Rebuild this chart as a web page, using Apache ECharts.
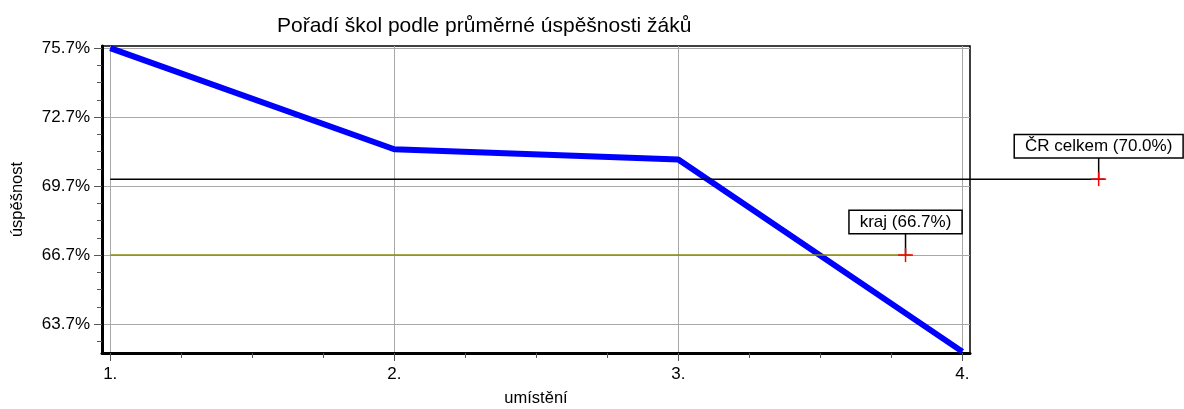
<!DOCTYPE html>
<html>
<head>
<meta charset="utf-8">
<script src="https://cdn.jsdelivr.net/npm/echarts@6/dist/echarts.min.js"></script>
<style>
  html, body { margin: 0; padding: 0; background: #fff; }
  #chart { width: 1184px; height: 409px; }
</style>
</head>
<body>
<div id="chart"></div>
<script>
// poradi skol
var ranks = [1, 2, 3, 4];
var scores = [75.7, 71.3, 70.85, 62.5];

// referencni hodnoty (CR, kraj) a misto, kde je znacka
var refNames = ['ČR celkem', 'kraj'];
var refValues = [70.0, 66.7];
var refMarkX = [4.48, 3.8];

// popisky os
var xTicks = [1, 2, 3, 4];
var xMinorTicks = [1.25, 1.5, 1.75, 2.25, 2.5, 2.75, 3.25, 3.5, 3.75];
var yTicks = [63.7, 66.7, 69.7, 72.7, 75.7];
var yMinorTicks = [62.95, 64.45, 65.2, 65.95, 67.45, 68.2, 68.95, 70.45, 71.2, 71.95, 73.45, 74.2, 74.95];

var refColors = ['#000000', '#8a8a10'];
var FONT = '"Liberation Sans", Arial, sans-serif';

var chart = echarts.init(document.getElementById('chart'));

function renderRef(params, api) {
  var i = api.value(2);
  var p = api.coord([api.value(0), api.value(1)]);
  var s = api.coord([ranks[0], api.value(1)]);
  var label = refNames[i] + ' (' + api.value(1).toFixed(1) + '%)';
  return {
    type: 'group',
    children: [
      { type: 'line', shape: { x1: s[0], y1: p[1], x2: p[0] + 6, y2: p[1] },
        style: { stroke: refColors[i], lineWidth: 1.5 } },
      { type: 'line', shape: { x1: p[0], y1: p[1] - 22, x2: p[0], y2: p[1] },
        style: { stroke: '#000', lineWidth: 1.5 } },
      { type: 'line', shape: { x1: p[0] - 7.5, y1: p[1], x2: p[0] + 7.5, y2: p[1] },
        style: { stroke: '#ff0000', lineWidth: 1.5 } },
      { type: 'line', shape: { x1: p[0], y1: p[1] - 7, x2: p[0], y2: p[1] + 7 },
        style: { stroke: '#ff0000', lineWidth: 1.5 } },
      { type: 'text', x: p[0], y: p[1] - 22,
        style: { text: label, align: 'center', verticalAlign: 'bottom',
          font: '17px ' + FONT, fill: '#000', backgroundColor: '#fff',
          borderColor: '#000', borderWidth: 1.5, padding: [3, 10, 2, 10] } }
    ]
  };
}

var option = {
  animation: false,
  textStyle: { fontFamily: FONT },
  title: {
    text: 'Pořadí škol podle průměrné úspěšnosti žáků',
    left: 277, top: 16, padding: 0,
    textStyle: { fontSize: 21, fontWeight: 'normal', color: '#000', fontFamily: FONT }
  },
  grid: {
    left: 102, right: 214, top: 46, bottom: 56,
    outerBoundsMode: 'none', containLabel: false,
    show: true, borderColor: '#000', borderWidth: 1.5, backgroundColor: '#fff'
  },
  xAxis: [{
    type: 'value', min: 0.971, max: 4.027,
    name: 'umístění', nameLocation: 'middle', nameGap: 37,
    nameTextStyle: { fontSize: 16.5, color: '#000' },
    axisLine: { show: true, onZero: false, lineStyle: { color: '#000', width: 3 } },
    axisTick: { show: true, customValues: xTicks, length: 8, lineStyle: { color: '#555' } },
    axisLabel: { customValues: xTicks, formatter: function (v) { return v + '.'; },
      margin: 13, fontSize: 17, color: '#000' },
    splitLine: { show: true, lineStyle: { color: '#a8a8a8', width: 1 } }
  }, {
    type: 'value', min: 0.971, max: 4.027, position: 'bottom',
    axisLine: { show: false },
    axisTick: { show: true, customValues: xMinorTicks, length: 5, lineStyle: { color: '#555' } },
    axisLabel: { show: false },
    splitLine: { show: false }
  }],
  yAxis: [{
    type: 'value', min: 62.44, max: 75.79,
    name: 'úspěšnost', nameLocation: 'middle', nameGap: 76,
    nameTextStyle: { fontSize: 16.5, color: '#000' },
    axisLine: { show: true, onZero: false, lineStyle: { color: '#000', width: 3 } },
    axisTick: { show: true, customValues: yTicks, length: 8, lineStyle: { color: '#555' } },
    axisLabel: { customValues: yTicks, formatter: function (v) { return v.toFixed(1) + '%'; },
      margin: 12, fontSize: 17, color: '#000' },
    splitLine: { show: true, lineStyle: { color: '#a8a8a8', width: 1 } }
  }, {
    type: 'value', min: 62.44, max: 75.79, position: 'left',
    axisLine: { show: false },
    axisTick: { show: true, customValues: yMinorTicks, length: 5, lineStyle: { color: '#555' } },
    axisLabel: { show: false },
    splitLine: { show: false }
  }],
  series: [{
    type: 'line',
    data: ranks.map(function (r, i) { return [r, scores[i]]; }),
    symbol: 'none', clip: false,
    lineStyle: { color: '#0000ff', width: 6 },
    z: 3
  }, {
    type: 'custom',
    coordinateSystem: 'cartesian2d',
    data: refValues.map(function (v, i) { return [refMarkX[i], v, i]; }),
    renderItem: renderRef,
    clip: false,
    z: 4
  }]
};

chart.setOption(option);
</script>
</body>
</html>
